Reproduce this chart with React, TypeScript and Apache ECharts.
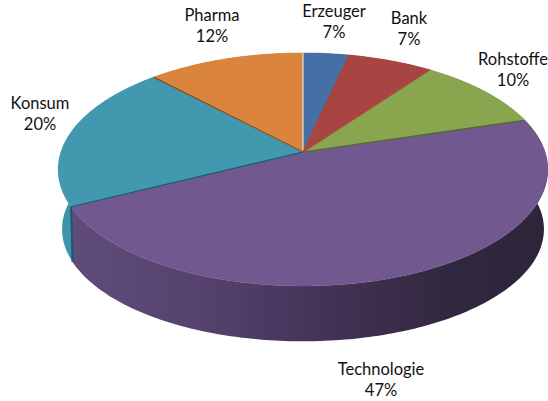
import React, { useEffect, useRef } from "react";
import * as echarts from "echarts";

const categories = ["Erzeuger", "Bank", "Rohstoffe", "Technologie", "Konsum", "Pharma"];
const sliceValues = [3.5, 6.5, 10.3, 47.3, 20.4, 12];
const percentLabels = ["7%", "7%", "10%", "47%", "20%", "12%"];

const topColors = ["#4470a6", "#a84543", "#89a54e", "#71588f", "#4198af", "#db843d"];
const wallColors = ["#2f4f75", "#75302e", "#5f7336", "#5d4a78", "#3f93aa", "#995c2a"];
const edgeColors = ["#e2dcd6", "#a84543", "#a84543", "#4f6a2c", "#1d5866", "#7d5230"];
const labelCenters = [[334, 0], [409, 7], [513, 48], [381, 358], [40, 92], [212, 4]];

const CX = 303;
const TOP_Y = 152;
const A = 242;
const B = 113.9;
const K = 0.15;
const LOWER_Y = 209;
const LOWER_A = 237;
const LOWER_B = 108.5;
const LOWER_K = 0.18;

const total = sliceValues.reduce((s, v) => s + v, 0);
const startOf = (i: number) => sliceValues.slice(0, i).reduce((s, v) => s + v, 0) / total;

function rim(frac: number, lower = false): number[] {
  const t = frac * Math.PI * 2;
  const X = Math.sin(t);
  const Y = Math.cos(t);
  if (lower) {
    const d = 1 + LOWER_K * Y;
    return [CX + (LOWER_A * X) / d, LOWER_Y - (LOWER_B * Y) / d];
  }
  const d = 1 + K * Y;
  return [CX + (A * X) / d, TOP_Y - (B * Y) / d];
}

function arc(a: number, b: number, lower = false): number[][] {
  const n = Math.max(4, Math.ceil((b - a) * 360));
  const out: number[][] = [];
  for (let i = 0; i <= n; i++) out.push(rim(a + ((b - a) * i) / n, lower));
  return out;
}

const wallGradient = () =>
  new echarts.graphic.LinearGradient(0, 0, 1, 0, [
    { offset: 0, color: "#5f4c7b" },
    { offset: 0.27, color: "#55436d" },
    { offset: 0.5, color: "#44355a" },
    { offset: 0.67, color: "#3b2c49" },
    { offset: 0.8, color: "#302840" },
    { offset: 1, color: "#2d2538" },
  ]);

export default function App() {
  const ref = useRef<HTMLDivElement>(null);
  useEffect(() => {
    const chart = echarts.init(ref.current!, null, { renderer: "svg" });
    chart.setOption({
      animation: false,
      backgroundColor: "#ffffff",
      series: [
        {
          type: "custom",
          coordinateSystem: "none",
          z: 1,
          silent: true,
          data: sliceValues,
          renderItem: (params: any) => {
            const i = params.dataIndex;
            const a = startOf(i);
            const b = a + sliceValues[i] / total;
            const pts = [...arc(a, b), ...arc(a, b, true).reverse()];
            return {
              type: "polygon",
              shape: { points: pts },
              style: { fill: categories[i] === "Technologie" ? wallGradient() : wallColors[i] },
            };
          },
        },
        {
          type: "custom",
          coordinateSystem: "none",
          z: 2,
          silent: true,
          data: sliceValues,
          renderItem: (params: any) => {
            const i = params.dataIndex;
            const a = startOf(i);
            const b = a + sliceValues[i] / total;
            const pts = [[CX, TOP_Y], ...arc(a, b)];
            return {
              type: "polygon",
              shape: { points: pts },
              style: { fill: topColors[i], stroke: topColors[i], lineWidth: 0.5 },
            };
          },
        },
        {
          type: "custom",
          coordinateSystem: "none",
          z: 3,
          silent: true,
          data: sliceValues,
          renderItem: (params: any) => {
            const i = params.dataIndex;
            const a = startOf(i);
            const p = rim(a);
            const children: any[] = [
              {
                type: "line",
                shape: { x1: CX, y1: TOP_Y, x2: p[0], y2: p[1] },
                style: { stroke: edgeColors[i], lineWidth: 1.2 },
              },
            ];
            if (categories[i] === "Technologie") {
              const e = rim(a + sliceValues[i] / total);
              const l = rim(a + sliceValues[i] / total, true);
              children.push({
                type: "line",
                shape: { x1: e[0], y1: e[1], x2: l[0], y2: l[1] },
                style: { stroke: "#1d5866", lineWidth: 2 },
              });
            }
            return { type: "group", children };
          },
        },
      ],
      graphic: categories.map((c, i) => ({
        type: "text",
        x: labelCenters[i][0],
        y: labelCenters[i][1],
        silent: true,
        z: 10,
        style: {
          text: `${c}\n${percentLabels[i]}`,
          textAlign: "center",
          textVerticalAlign: "top",
          fontFamily: "Lato",
          fontSize: 16.5,
          lineHeight: 21.5,
          fill: "#111111",
        },
      })),
    });
    return () => chart.dispose();
  }, []);
  return <div ref={ref} style={{ position: "fixed", left: 0, top: 0, width: 548, height: 401 }} />;
}
